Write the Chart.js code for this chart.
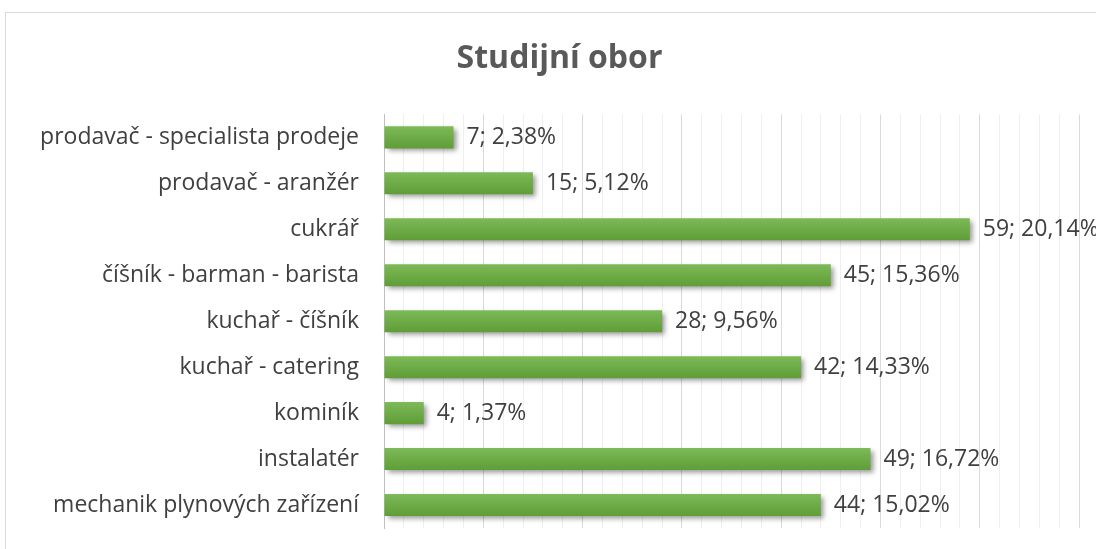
<!DOCTYPE html>
<html>
<head>
<meta charset="utf-8">
<script src="https://cdn.jsdelivr.net/npm/chart.js@4"></script>
<style>
  body { margin: 0; background: #fff; }
  #wrap { position: absolute; left: 0; top: 0; width: 1096px; height: 549px; }
  #frame { position: absolute; left: 5px; top: 12px; width: 1200px; height: 700px; border: 1px solid #d9d9d9; box-sizing: border-box; }
  #chart { position: absolute; left: 0; top: 0; }
</style>
</head>
<body>
<div id="wrap">
  <div id="frame"></div>
  <canvas id="chart" width="1096" height="549"></canvas>
</div>
<script>
const categories = [
  "prodavač - specialista prodeje",
  "prodavač - aranžér",
  "cukrář",
  "číšník - barman - barista",
  "kuchař - číšník",
  "kuchař - catering",
  "kominík",
  "instalatér",
  "mechanik plynových zařízení"
];
const counts = [7, 15, 59, 45, 28, 42, 4, 49, 44];
const percents = ["2,38%", "5,12%", "20,14%", "15,36%", "9,56%", "14,33%", "1,37%", "16,72%", "15,02%"];

const labelFont = "'Open Sans', sans-serif";

const barLook = {
  id: "barLook",
  beforeDatasetsDraw(chart) {
    const ctx = chart.ctx;
    ctx.save();
    ctx.shadowColor = "rgba(0,0,0,0.4)";
    ctx.shadowBlur = 5;
    ctx.shadowOffsetX = 3;
    ctx.shadowOffsetY = 3;
  },
  afterDatasetsDraw(chart) {
    const ctx = chart.ctx;
    ctx.restore();
    ctx.save();
    ctx.font = "23px " + labelFont;
    ctx.fillStyle = "#404040";
    ctx.textBaseline = "middle";
    chart.getDatasetMeta(0).data.forEach((bar, i) => {
      ctx.fillText(counts[i] + "; " + percents[i], bar.x + 13, bar.y);
    });
    ctx.restore();
  }
};

new Chart(document.getElementById("chart"), {
  type: "bar",
  data: {
    labels: categories,
    datasets: [{
      data: counts,
      backgroundColor: (c) => {
        const y = c.chart.scales.y;
        const mid = y ? y.getPixelForValue(c.dataIndex) : NaN;
        if (!isFinite(mid)) return "#6eab45";
        const g = c.chart.ctx.createLinearGradient(0, mid - 11, 0, mid + 11);
        g.addColorStop(0, "#7dba58");
        g.addColorStop(1, "#5f9d37");
        return g;
      },
      borderWidth: 0,
      categoryPercentage: 1,
      barPercentage: 0.48
    }]
  },
  options: {
    indexAxis: "y",
    responsive: false,
    animation: false,
    layout: { padding: { left: 40, right: 17, top: 0, bottom: 21 } },
    plugins: {
      legend: { display: false },
      tooltip: { enabled: false },
      title: {
        display: true,
        text: "Studijní obor",
        color: "#595959",
        font: { family: labelFont, size: 32, weight: "bold" },
        padding: { top: 40, bottom: 36 }
      }
    },
    scales: {
      x: {
        min: 0,
        max: 70,
        ticks: { display: false, stepSize: 2 },
        border: { display: false },
        grid: {
          drawTicks: false,
          color: (c) => (c.tick && c.tick.value % 10 === 0) ? "#d9d9d9" : "#efefef"
        },
        afterFit: (s) => { s.height = 0; }
      },
      y: {
        grid: { display: false },
        border: { display: true, color: "#bfbfbf" },
        ticks: {
          color: "#404040",
          padding: 17,
          font: { family: labelFont, size: 23 }
        },
        afterFit: (s) => {
          s.width = 344;
          s.paddingTop = 0;
          s.paddingBottom = 0;
        }
      }
    }
  },
  plugins: [barLook]
});
</script>
</body>
</html>
